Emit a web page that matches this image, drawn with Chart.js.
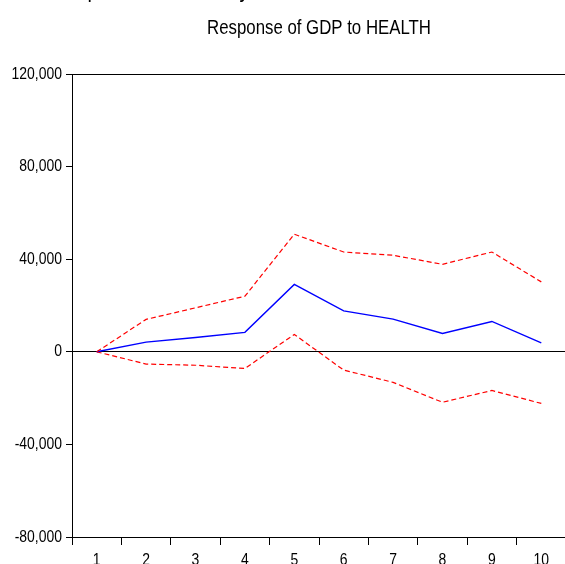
<!DOCTYPE html>
<html>
<head>
<meta charset="utf-8">
<script src="https://cdn.jsdelivr.net/npm/chart.js@4/dist/chart.umd.min.js"></script>
<style>
  html, body { margin: 0; padding: 0; background: #fff; overflow: hidden; }
  #wrap { position: relative; width: 566px; height: 564px; }
</style>
</head>
<body>
<div id="wrap"><canvas id="c"></canvas></div>
<script>
// ---- data ----
const periods = ['1','2','3','4','5','6','7','8','9','10'];
const response = [0, 4200, 6200, 8400, 29100, 17700, 14100, 7900, 13100, 3900];
const upperBand = [0, 14000, 19000, 24000, 50800, 43100, 41700, 37800, 43100, 30200];
const lowerBand = [0, -5300, -5800, -7200, 7500, -7900, -13200, -21800, -16700, -22300];
const yTicks = [-80000, -40000, 0, 40000, 80000, 120000];
const mainTitle = 'Response to Cholesky One S.D. Innovations \u00B1 2 S.E.';
const subTitle = 'Response of GDP to HEALTH';

const FONT = "'Liberation Sans', Arial, sans-serif";
const NARROW = 0.82; // horizontal condensing to mimic Arial Narrow

function narrowText(ctx, text, x, y, size, align, baseline) {
  ctx.save();
  ctx.font = size + 'px ' + FONT;
  ctx.fillStyle = '#000';
  ctx.textAlign = align;
  ctx.textBaseline = baseline;
  ctx.translate(x, y);
  ctx.scale(NARROW, 1);
  ctx.fillText(text, 0, 0);
  ctx.restore();
}

// text layer: cropped figure title, panel title, tick labels (positions from the scales)
const textLayer = {
  id: 'textLayer',
  afterDraw(chart) {
    const ctx = chart.ctx;
    const area = chart.chartArea;
    const xs = chart.scales.x, ys = chart.scales.y;

    // cropped big title (only the descenders reach into the picture)
    const size = 24;
    ctx.save();
    ctx.font = size + 'px ' + FONT;
    const a = (ctx.measureText('Res').width + ctx.measureText('p').width / 2) * NARROW;
    ctx.restore();
    narrowText(ctx, mainTitle, 93 - a, 2.5 - 0.21 * size, size, 'left', 'alphabetic');

    // panel title centred over the plot area
    narrowText(ctx, subTitle, (area.left + area.right) / 2, 28, 20.5, 'center', 'middle');

    // y tick labels
    yTicks.forEach(v => {
      narrowText(ctx, v.toLocaleString('en-US'), area.left - 10, ys.getPixelForValue(v), 17, 'right', 'middle');
    });
    // x tick labels
    periods.forEach((p, i) => {
      narrowText(ctx, p, xs.getPixelForValue(i), area.bottom + 15, 17, 'center', 'top');
    });
  }
};

new Chart(document.getElementById('c'), {
  type: 'line',
  data: {
    labels: periods,
    datasets: [
      { data: upperBand, borderColor: '#ff0000', borderWidth: 1.2, borderDash: [5, 3], pointRadius: 0, tension: 0, fill: false },
      { data: response, borderColor: '#0000ff', borderWidth: 1.4, pointRadius: 0, tension: 0, fill: false },
      { data: lowerBand, borderColor: '#ff0000', borderWidth: 1.2, borderDash: [5, 3], pointRadius: 0, tension: 0, fill: false }
    ]
  },
  options: {
    responsive: true,
    maintainAspectRatio: false,
    animation: false,
    devicePixelRatio: 1,
    layout: { padding: { top: 74, left: 0, right: 0, bottom: 0 } },
    plugins: {
      legend: { display: false },
      tooltip: { enabled: false },
      title: { display: false }
    },
    scales: {
      x: {
        type: 'category',
        offset: true,
        grid: { offset: true, color: 'rgba(0,0,0,0)', tickColor: '#000', tickLength: 8, drawOnChartArea: false },
        border: { display: true, color: '#000', width: 1 },
        ticks: { display: false, autoSkip: false, maxRotation: 0 },
        afterFit(s) { s.height = 27; }
      },
      y: {
        min: -80000,
        max: 120000,
        afterBuildTicks(s) { s.ticks = yTicks.map(v => ({ value: v })); },
        grid: {
          color: (c) => (c.tick && (c.tick.value === 0 || c.tick.value === 120000)) ? '#000' : 'rgba(0,0,0,0)',
          tickColor: '#000',
          tickLength: 6,
          lineWidth: 1
        },
        border: { display: true, color: '#000', width: 1 },
        ticks: { display: false },
        afterFit(s) { s.width = 72; }
      }
    }
  },
  plugins: [textLayer]
});
</script>
</body>
</html>
